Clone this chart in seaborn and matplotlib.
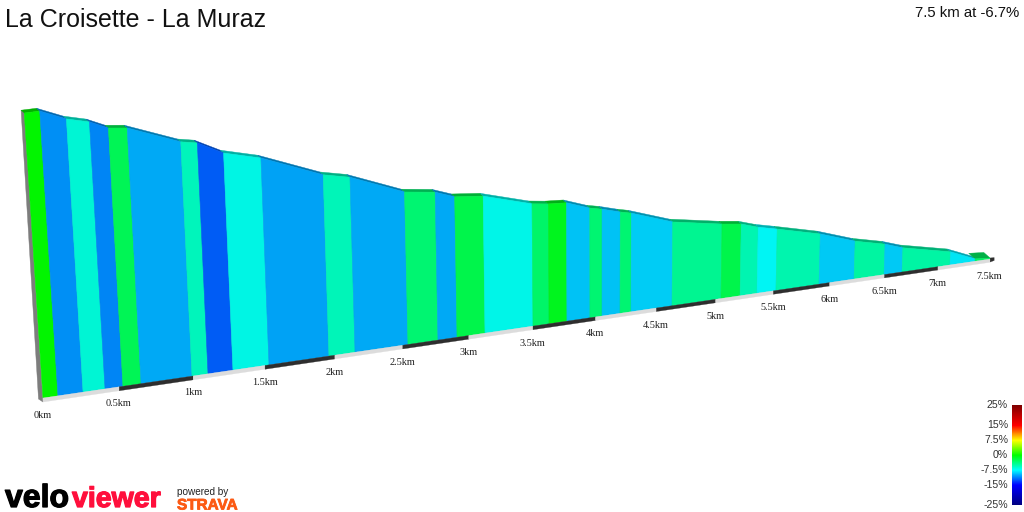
import numpy as np
import matplotlib
matplotlib.use("Agg")
import matplotlib.pyplot as plt
import matplotlib.patheffects as pe
from matplotlib.colors import LinearSegmentedColormap
import seaborn as sns

# Route profile: segment boundaries (km), elevation above the lowest point (m),
# and the gradient (%) of every segment.
distance_km = [0, 0.097, 0.261, 0.406, 0.525, 0.646, 0.992, 1.102, 1.275, 1.528, 1.957, 2.147,
               2.539, 2.765, 2.910, 3.125, 3.5, 3.627, 3.770, 3.955, 4.053, 4.2, 4.29, 4.631,
               5.046, 5.21, 5.357, 5.523, 5.905, 6.221, 6.496, 6.663, 7.114, 7.354, 7.5]
elevation_m = [502, 503, 485, 476, 462, 459, 425, 420, 397, 381, 338, 328, 289, 282, 269, 264,
               238, 234, 232, 216, 211, 201, 196, 168, 151, 146, 135, 126, 104, 79, 64, 51,
               28, 5, 2]
gradient_pct = [0, -10.6, -6.5, -10.9, -2.6, -9.8, -5.7, -12.2, -7, -10, -5.6, -9.8, -3.5, -9.8,
                -2.3, -7.1, -3.2, -0.9, -9, -3.5, -9, -3.5, -8.7, -4.4, -2.3, -5.4, -7.5, -5.3,
                -8.8, -4.9, -8.8, -5, -8, -3]

tick_km = [0, 0.5, 1, 1.5, 2, 2.5, 3, 3.5, 4, 4.5, 5, 5.5, 6, 6.5, 7, 7.5]
tick_labels = ["0km", "0.5km", "1km", "1.5km", "2km", "2.5km", "3km", "3.5km", "4km", "4.5km",
               "5km", "5.5km", "6km", "6.5km", "7km", "7.5km"]
scale_pct = [25, 15, 7.5, 0, -7.5, -15, -25]
scale_labels = ["25%", "15%", "7.5%", "0%", "-7.5%", "-15%", "-25%"]

title = "La Croisette - La Muraz"
summary = "7.5 km at -6.7%"

# Gradient colour scale
stops = [(-25, "#000080"), (-15, "#0000ff"), (-7.5, "#00ffff"), (0, "#00ff00"),
         (7.5, "#ffff00"), (15, "#ff0000"), (25, "#800000")]
grad_cmap = LinearSegmentedColormap.from_list(
    "gradient", [((v + 25) / 50, c) for v, c in stops], N=512)


def grad_colour(g):
    return tuple(v * 0.96 for v in grad_cmap((g + 25) / 50)[:3])


# Perspective projection of (distance, elevation) onto the canvas
def project(d, h):
    d = np.asarray(d, float)
    s = 1 / (1 + 0.03 * d)
    bx = 43 + 154.7 * d * s
    by = 398 - 22.7 * d * s
    hp = 0.5677 * np.asarray(h, float) * s
    return bx + (bx - 600) * 0.000118 * hp, by - hp


sns.set_theme(style="white")
plt.rcParams["font.family"] = ["Liberation Sans", "DejaVu Sans"]
PX = 0.72  # font size in points for one canvas pixel at 100 dpi

fig = plt.figure(figsize=(10.24, 5.12), dpi=100, facecolor="white")
ax = fig.add_axes([0, 0, 1, 1])
ax.set_xlim(0, 1024)
ax.set_ylim(512, 0)
ax.axis("off")

DEPTH_X, DEPTH_Y = -3.2, -2.8
BAND = 4.0

# End face on the near side of the profile
x0t, y0t = project(0, elevation_m[0])
x0b, y0b = project(0, 0)
ax.fill([x0t + DEPTH_X, x0t, x0b, x0b - 4.5], [y0t + DEPTH_Y, y0t, y0b + BAND, y0b + 1],
        color="#7d7d7d", lw=0.3, zorder=1)

# Road surface and wall, one segment at a time
n_seg = len(gradient_pct)
for i, g in enumerate(gradient_pct):
    d0, d1 = distance_km[i], distance_km[i + 1]
    h0, h1 = elevation_m[i], elevation_m[i + 1]
    c = grad_colour(g)
    xt0, yt0 = project(d0, h0)
    xt1, yt1 = project(d1, h1)
    xb0, yb0 = project(d0, 0)
    xb1, yb1 = project(d1, 0)
    # the road widens on screen where it flattens out at the far end
    k = 2.0 if i == n_seg - 1 else 1.0
    dark = tuple(v * 0.72 for v in c)
    ax.fill([xt0, xt1, xt1 + k * DEPTH_X, xt0 + k * DEPTH_X],
            [yt0, yt1, yt1 + k * DEPTH_Y, yt0 + k * DEPTH_Y], color=dark, lw=0.3, zorder=2)
    ax.fill([xt0, xt1, xb1, xb0], [yt0, yt1, yb1, yb0], facecolor=c,
            edgecolor=tuple(v * 0.96 for v in c), lw=0.4, zorder=3)

# Alternating distance band along the foot, with its labels
for i in range(len(tick_km) - 1):
    xa, ya = project(tick_km[i], 0)
    xb, yb = project(tick_km[i + 1], 0)
    sa, sb = BAND / (1 + 0.03 * tick_km[i]), BAND / (1 + 0.03 * tick_km[i + 1])
    ax.fill([xa, xb, xb, xa], [ya, yb, yb + sb, ya + sa],
            color="#2e2e2e" if i % 2 else "#dcdcdc", lw=0.2, zorder=4)
xe, ye = project(tick_km[-1], 0)
ax.fill([xe, xe + 4, xe + 4, xe], [ye - 1, ye - 1.5, ye + 1.5, ye + 3],
        color="#2e2e2e", lw=0.2, zorder=4)

for km, lab in zip(tick_km, tick_labels):
    x, y = project(km, 0)
    ax.text(x - 0.5, y + 17, lab, ha="center", va="center", fontsize=10.3 * PX,
            family="Liberation Serif", color="#222222")

# Headings
ax.text(5, 20, title, ha="left", va="center", fontsize=25 * PX, color="#111111")
ax.text(1019, 13, summary, ha="right", va="center", fontsize=14.9 * PX, color="#111111")

# Gradient scale
cax = fig.add_axes([1012 / 1024, 1 - 505 / 512, 10 / 1024, 100 / 512])
strip = np.linspace(25, -25, 200).reshape(-1, 1)
sns.heatmap(strip, cmap=grad_cmap, vmin=-25, vmax=25, cbar=False, ax=cax,
            xticklabels=False, yticklabels=False)
cax.set_axis_off()
for v, lab in zip(scale_pct, scale_labels):
    yy = 455 - 2 * v
    ax.text(1008, yy, lab, ha="right", va="center", fontsize=10.5 * PX, color="#333333")

# Branding
heavy = [pe.withStroke(linewidth=0.9, foreground="black")]
heavy_red = [pe.withStroke(linewidth=0.9, foreground="#ff0f3c")]
orange = [pe.withStroke(linewidth=0.6, foreground="#fc5a14")]
ax.text(5, 507, "velo", ha="left", va="baseline", fontsize=32 * PX, fontweight="bold",
        color="black", path_effects=heavy)
ax.text(72, 507, "viewer", ha="left", va="baseline", fontsize=28.5 * PX, fontweight="bold",
        color="#ff0f3c", path_effects=heavy_red)
ax.text(177, 495, "powered by", ha="left", va="baseline", fontsize=10 * PX, color="#222222")
ax.text(177, 509.5, "STRAVA", ha="left", va="baseline", fontsize=15.3 * PX, fontweight="bold",
        color="#fc5a14", path_effects=orange)

fig.savefig("out.png", dpi=100, facecolor="white")
